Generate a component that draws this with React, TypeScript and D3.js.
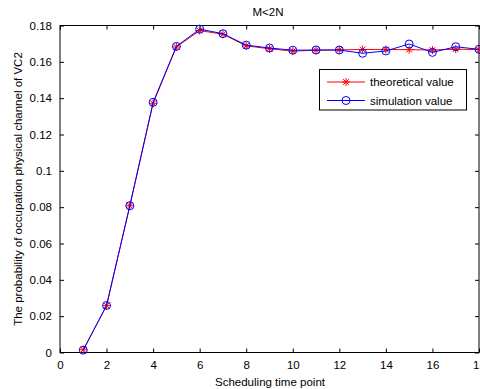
import React, { useRef, useEffect } from "react";
import * as d3 from "d3";

const timePoints = [1, 2, 3, 4, 5, 6, 7, 8, 9, 10, 11, 12, 13, 14, 15, 16, 17, 18];
const theoretical = [0.0015, 0.0258, 0.0808, 0.1372, 0.1682, 0.1772, 0.1752, 0.1688, 0.1672, 0.1659, 0.1664, 0.1666, 0.1668, 0.1668, 0.1667, 0.1665, 0.167, 0.1667];
const simulation = [0.0013, 0.0259, 0.0808, 0.1377, 0.1685, 0.178, 0.1755, 0.1692, 0.1676, 0.1664, 0.1665, 0.1665, 0.1647, 0.166, 0.1698, 0.1652, 0.1683, 0.1669];
const xTicks = [0, 2, 4, 6, 8, 10, 12, 14, 16, 18];
const yTicks = [0, 0.02, 0.04, 0.06, 0.08, 0.1, 0.12, 0.14, 0.16, 0.18];
const legendLabels = ["theoretical value", "simulation value"];

const W = 480;
const H = 389;
const left = 60;
const right = 479;
const top = 25.5;
const bottom = 352.5;
const font = "'Liberation Sans', Arial, sans-serif";

function App() {
  const svgRef = useRef<SVGSVGElement>(null);

  useEffect(() => {
    const svg = d3.select(svgRef.current);
    svg.selectAll("*").remove();

    const x = d3.scaleLinear().domain([0, 18]).range([left, right]);
    const y = d3.scaleLinear().domain([0, 0.18]).range([bottom, top]);

    svg.append("rect").attr("width", W).attr("height", H).attr("fill", "#fff");

    // axes (ticks inside like matlab)
    const fmt = (d: number) => String(+d.toFixed(2));
    const xb = svg.append("g").attr("transform", `translate(0,${bottom})`)
      .call(d3.axisBottom(x).tickValues(xTicks).tickSize(-4).tickPadding(8).tickFormat((d) => fmt(+d)));
    const xt = svg.append("g").attr("transform", `translate(0,${top})`)
      .call(d3.axisTop(x).tickValues(xTicks).tickSize(-4).tickFormat(() => ""));
    const yl = svg.append("g").attr("transform", `translate(${left},0)`)
      .call(d3.axisLeft(y).tickValues(yTicks).tickSize(-4).tickPadding(8).tickFormat((d) => fmt(+d)));
    const yr = svg.append("g").attr("transform", `translate(${right},0)`)
      .call(d3.axisRight(y).tickValues(yTicks).tickSize(-4).tickFormat(() => ""));
    [xb, xt, yl, yr].forEach((g) => {
      g.select(".domain").remove();
      g.selectAll("line").attr("stroke", "#000");
      g.selectAll("text").attr("fill", "#000").style("font-family", font).style("font-size", "11.5px");
    });
    xb.selectAll("text").attr("dy", "0.71em");

    svg.append("rect").attr("x", left).attr("y", top).attr("width", right - left).attr("height", bottom - top)
      .attr("fill", "none").attr("stroke", "#000").attr("stroke-width", 1);

    const line = d3.line<number>().x((_, i) => x(timePoints[i])).y((d) => y(d));

    // red theoretical
    svg.append("path").datum(theoretical).attr("d", line).attr("fill", "none").attr("stroke", "#ff0000").attr("stroke-width", 1);
    const star = (g: d3.Selection<SVGGElement, unknown, null, undefined>, cx: number, cy: number, s: number) => {
      const d = s * 0.72;
      g.append("path")
        .attr("d", `M${cx - s},${cy}H${cx + s}M${cx},${cy - s}V${cy + s}M${cx - d},${cy - d}L${cx + d},${cy + d}M${cx - d},${cy + d}L${cx + d},${cy - d}`)
        .attr("stroke", "#ff0000").attr("stroke-width", 1).attr("fill", "none");
    };
    const redMarks = svg.append("g");
    theoretical.forEach((v, i) => star(redMarks, x(timePoints[i]), y(v), 4));

    // blue simulation
    svg.append("path").datum(simulation).attr("d", line).attr("fill", "none").attr("stroke", "#0000ff").attr("stroke-width", 1);
    svg.append("g").selectAll("circle").data(simulation).join("circle")
      .attr("cx", (_, i) => x(timePoints[i])).attr("cy", (d) => y(d)).attr("r", 4)
      .attr("fill", "none").attr("stroke", "#0000ff").attr("stroke-width", 1);

    // legend
    const lg = svg.append("g");
    lg.append("rect").attr("x", 319.5).attr("y", 69.5).attr("width", 147).attr("height", 40.5)
      .attr("fill", "#fff").attr("stroke", "#000");
    const colors = ["#ff0000", "#0000ff"];
    legendLabels.forEach((lab, i) => {
      const ly = 82 + i * 18.5;
      lg.append("line").attr("x1", 327).attr("x2", 365).attr("y1", ly).attr("y2", ly).attr("stroke", colors[i]);
      if (i === 0) star(lg as any, 346, ly, 4);
      else lg.append("circle").attr("cx", 346).attr("cy", ly).attr("r", 4).attr("fill", "none").attr("stroke", colors[i]);
      lg.append("text").attr("x", 370).attr("y", ly).attr("dy", "0.35em").text(lab)
        .style("font-family", font).style("font-size", "11.5px").attr("fill", "#000");
    });

    // titles
    svg.append("text").attr("x", 268).attr("y", 12).attr("dy", "0.35em").attr("text-anchor", "middle")
      .style("font-family", font).style("font-size", "11.5px").text("M<2N");
    svg.append("text").attr("x", 270).attr("y", 382).attr("dy", "0.35em").attr("text-anchor", "middle")
      .style("font-family", font).style("font-size", "11.5px").text("Scheduling time point");
    svg.append("text").attr("transform", `translate(18,${(top + bottom) / 2}) rotate(-90)`).attr("dy", "0.35em")
      .attr("text-anchor", "middle").style("font-family", font).style("font-size", "11.5px")
      .text("The probability of occupation physical channel of VC2");
  }, []);

  return (
    <svg ref={svgRef} width={W} height={H} style={{ display: "block", position: "absolute", left: 0, top: 0 }} />
  );
}

export default App;
